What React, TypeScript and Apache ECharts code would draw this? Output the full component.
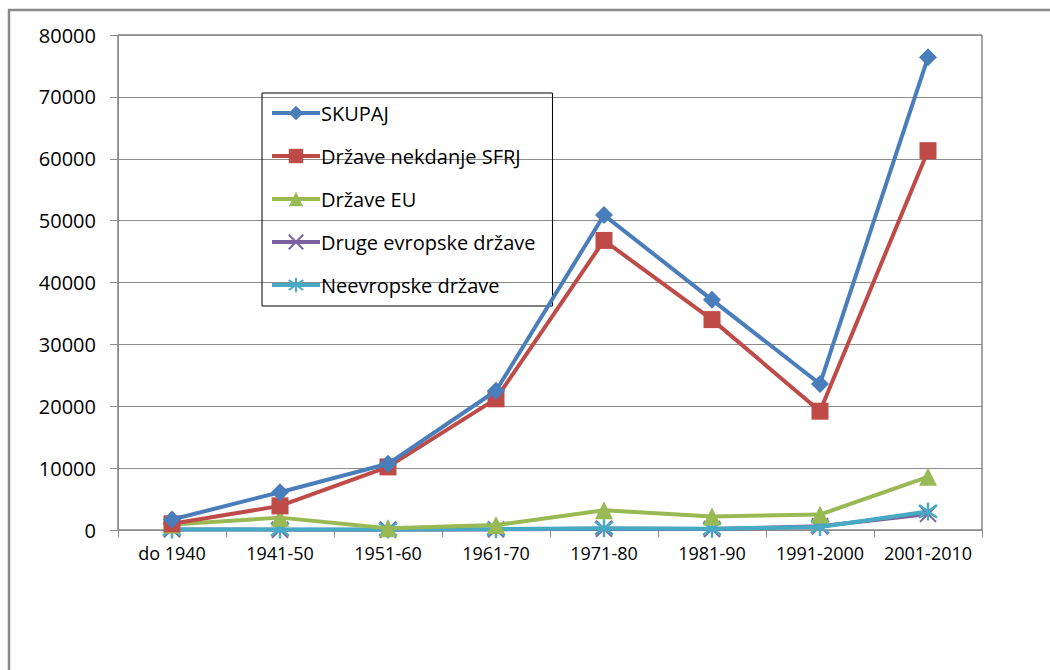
import React, { useEffect, useRef } from "react";
import * as echarts from "echarts";

const categories = ["do 1940", "1941-50", "1951-60", "1961-70", "1971-80", "1981-90", "1991-2000", "2001-2010"];
const skupaj = [1700, 6100, 10700, 22500, 50900, 37200, 23600, 76400];
const sfrj = [1000, 3900, 10200, 21200, 46800, 34000, 19200, 61300];
const eu = [900, 2000, 300, 800, 3200, 2200, 2500, 8600];
const drugeEvropske = [100, 50, 50, 100, 200, 150, 600, 2600];
const neevropske = [100, 100, 100, 150, 300, 200, 500, 3000];
const seriesNames = ["SKUPAJ", "Države nekdanje SFRJ", "Države EU", "Druge evropske države", "Neevropske države"];

const FONT = "Open Sans";

export default function App() {
  const ref = useRef<HTMLDivElement>(null);
  useEffect(() => {
    if (!ref.current) return;
    const chart = echarts.init(ref.current, undefined, { renderer: "svg" });
    const xPath = "path://M0 0 L10 10 M10 0 L0 10";
    const starPath = "path://M5 0 L5 10 M0 1.5 L10 8.5 M10 1.5 L0 8.5";
    chart.setOption({
      animation: false,
      backgroundColor: "#fff",
      graphic: [
        {
          type: "rect",
          shape: { x: 9, y: 10, width: 1200, height: 800 },
          style: { fill: "none", stroke: "#8a8a8a", lineWidth: 2.5 },
          silent: true,
        },
      ],
      grid: {
        left: 118,
        top: 35,
        right: 68,
        bottom: 140,
        show: true,
        borderColor: "#4a4a4a",
        borderWidth: 1,
        containLabel: false,
      },
      legend: {
        orient: "vertical",
        left: 262,
        top: 93,
        padding: [10, 17, 11, 8],
        itemWidth: 48,
        itemHeight: 18,
        itemGap: 23,
        borderColor: "#000",
        borderWidth: 1,
        lineStyle: { width: 4 },
        textStyle: { fontFamily: FONT, fontSize: 20, color: "#000", padding: [0, 0, 0, -4] },
        data: seriesNames,
      },
      xAxis: {
        type: "category",
        data: categories,
        boundaryGap: true,
        axisLine: { lineStyle: { color: "#8a8a8a", width: 1 } },
        axisTick: { show: true, length: 7, lineStyle: { color: "#8a8a8a" } },
        axisLabel: { interval: 0, fontFamily: FONT, fontSize: 18, color: "#000", margin: 14 },
      },
      yAxis: {
        type: "value",
        min: 0,
        max: 80000,
        interval: 10000,
        axisLine: { show: true, lineStyle: { color: "#8a8a8a", width: 1 } },
        axisTick: { show: true, length: 8, lineStyle: { color: "#8a8a8a" } },
        axisLabel: {
          fontFamily: FONT,
          fontSize: 20,
          color: "#000",
          margin: 22,
          formatter: (v: number) => String(v),
        },
        splitLine: { lineStyle: { color: "#8c8c8c", width: 1 } },
      },
      series: [
        {
          name: seriesNames[0],
          type: "line",
          data: skupaj,
          symbol: "diamond",
          symbolSize: 18,
          lineStyle: { width: 4, color: "#4A7EBB" },
          itemStyle: { color: "#4A7EBB" },
          z: 6,
        },
        {
          name: seriesNames[1],
          type: "line",
          data: sfrj,
          symbol: "rect",
          symbolSize: 17,
          lineStyle: { width: 4, color: "#BE4B48" },
          itemStyle: { color: "#BE4B48" },
          z: 5,
        },
        {
          name: seriesNames[2],
          type: "line",
          data: eu,
          symbol: "triangle",
          symbolSize: 18,
          lineStyle: { width: 4, color: "#98B954" },
          itemStyle: { color: "#98B954" },
          z: 4,
        },
        {
          name: seriesNames[3],
          type: "line",
          data: drugeEvropske,
          symbol: xPath,
          symbolSize: 16,
          lineStyle: { width: 4, color: "#7D60A0" },
          itemStyle: { color: "none", borderColor: "#7D60A0", borderWidth: 2 },
          z: 3,
        },
        {
          name: seriesNames[4],
          type: "line",
          data: neevropske,
          symbol: starPath,
          symbolSize: 18,
          lineStyle: { width: 4, color: "#46AAC5" },
          itemStyle: { color: "none", borderColor: "#46AAC5", borderWidth: 2.5 },
          z: 3,
        },
      ],
    });
    return () => chart.dispose();
  }, []);
  return (
    <div
      ref={ref}
      style={{ position: "fixed", left: 0, top: 0, width: 1050, height: 670 }}
    />
  );
}
